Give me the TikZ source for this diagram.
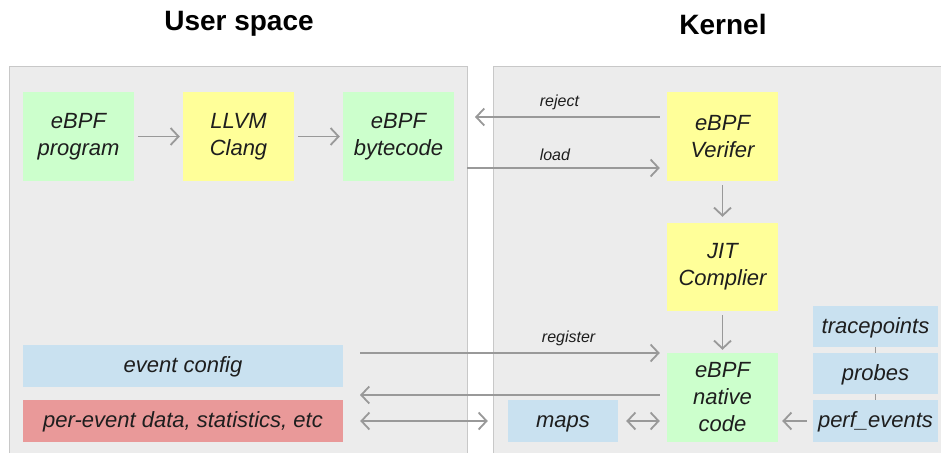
\documentclass[tikz,border=0pt]{standalone}
\usepackage{fontspec}
\setmainfont{Liberation Sans}
\usetikzlibrary{arrows.meta}
\definecolor{panelfill}{HTML}{ECECEC}
\definecolor{panelline}{HTML}{C8C8C8}
\definecolor{boxgreen}{HTML}{CCFFCC}
\definecolor{boxyellow}{HTML}{FFFF99}
\definecolor{boxblue}{HTML}{C9E1F0}
\definecolor{boxred}{HTML}{E99999}
\definecolor{arrowgray}{HTML}{999999}
\definecolor{textdark}{HTML}{1E1E1E}
\tikzset{
  box/.style={draw=none, inner sep=0pt, align=center, text=textdark,
    font=\fontsize{22}{27}\selectfont\itshape, minimum width=111pt, minimum height=89pt},
  greenbox/.style={box, fill=boxgreen},
  yellowbox/.style={box, fill=boxyellow},
  onel/.style={text height=17pt, text depth=4pt},
  bluebox/.style={box, onel, fill=boxblue, minimum height=42pt},
  redbox/.style={box, onel, fill=boxred, minimum height=42pt},
  conn/.style={draw=arrowgray, line width=1.8pt, -{Straight Barb[length=8pt,width=17pt,line width=1.8pt]}},
  dconn/.style={draw=arrowgray, line width=1.8pt, {Straight Barb[length=8pt,width=17pt,line width=1.8pt]}-{Straight Barb[length=8pt,width=17pt,line width=1.8pt]}},
  tie/.style={draw=arrowgray, line width=1pt},
  elabel/.style={font=\fontsize{16}{19}\selectfont\itshape, text=textdark, inner sep=0pt},
  title/.style={font=\fontsize{28}{32}\selectfont\bfseries, text=black, inner sep=0pt},
  panel/.style={fill=panelfill, draw=panelline, line width=1pt}
}
\begin{document}
\begin{tikzpicture}[x=1pt, y=-1pt]
\useasboundingbox (0,0) rectangle (941,452);
\fill[white] (0,0) rectangle (941,452);
\begin{scope}
\clip (0,0) rectangle (941,452);
\draw[panel] (9,66) rectangle (467,460);
\draw[panel] (493,66) rectangle (950,460);
\end{scope}

\node[title] (tuser) at (239,24) {User space};
\node[title] (tkern) at (723,24) {Kernel};

\node[greenbox] (prog) at (78.5,136.5) {eBPF\\program};
\node[yellowbox] (clang) at (238.5,136.5) {LLVM\\Clang};
\node[greenbox] (bytec) at (398.5,136.5) {eBPF\\bytecode};
\node[yellowbox] (verif) at (722.5,136.5) {eBPF\\Verifer};
\node[yellowbox, minimum height=88pt] (jit) at (722.5,267) {JIT\\Complier};
\node[greenbox] (native) at (722.5,397.5) {eBPF\\native\\code};

\node[bluebox, minimum width=320pt] (evcfg) at (183,366) {event config};
\node[redbox, minimum width=320pt] (perev) at (183,421) {per-event data, statistics, etc};
\node[bluebox, minimum width=110pt] (maps) at (563,421) {maps};

\node[bluebox, minimum width=125pt, minimum height=41pt] (trace) at (875.5,326.5) {tracepoints};
\node[bluebox, minimum width=125pt, minimum height=41pt] (probes) at (875.5,373.5) {probes};
\node[bluebox, minimum width=125pt] (perf) at (875.5,421) {perf\_events};

\coordinate (rejEnd) at (475,117);
\coordinate (loadStart) at (467,168);
\coordinate (regStart) at (360,353);
\coordinate (backEnd) at (360,395);

\draw[conn, shorten <=4pt, shorten >=3pt] (prog) -- (clang);
\draw[conn, shorten <=4pt, shorten >=3pt] (clang) -- (bytec);
\draw[conn, shorten <=7pt] (verif.west |- rejEnd) -- (rejEnd)
  node[elabel, pos=0.56, above=6pt] (lrej) {reject};
\draw[conn, shorten >=7pt] (loadStart) -- (loadStart -| verif.west)
  node[elabel, pos=0.44, above=6pt] (lload) {load};
\draw[conn, shorten <=4pt, shorten >=6pt] (verif) -- (jit);
\draw[conn, shorten <=4pt, shorten >=3pt] (jit) -- (native);
\draw[conn, shorten >=7pt] (regStart) -- (regStart -| native.west)
  node[elabel, pos=0.68, above=6pt] (lreg) {register};
\draw[conn, shorten <=7pt] (backEnd -| native.west) -- (backEnd);
\draw[dconn, shorten <=17pt, shorten >=20pt] (perev) -- (maps);
\draw[dconn, shorten <=8pt, shorten >=7pt] (maps.east) -- (maps.east -| native.west);
\draw[conn, shorten <=6pt, shorten >=4pt] (perf.west) -- (perf.west -| native.east);
\draw[tie] (trace) -- (probes);
\draw[tie] (probes) -- (perf);
\end{tikzpicture}
\end{document}
